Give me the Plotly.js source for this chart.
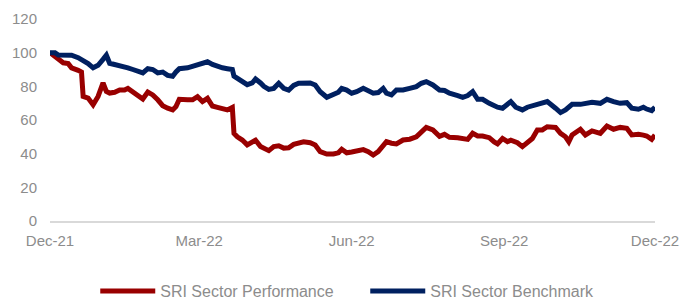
<!DOCTYPE html>
<html>
<head>
<meta charset="utf-8">
<script src="https://cdn.plot.ly/plotly-3.0.1.min.js"></script>
<style>html,body{margin:0;padding:0;background:#fff;}#chart{width:684px;height:299px;}</style>
</head>
<body>
<div id="chart"></div>
<script>
const dates = ["2021-12-01","2021-12-04","2021-12-06","2021-12-09","2021-12-12","2021-12-14","2021-12-18","2021-12-20","2021-12-21","2021-12-24","2021-12-27","2021-12-30",
"2022-01-02","2022-01-04","2022-01-06","2022-01-09","2022-01-12","2022-01-15","2022-01-17","2022-01-20","2022-01-23","2022-01-26","2022-01-29",
"2022-02-01","2022-02-04","2022-02-07","2022-02-10","2022-02-13","2022-02-15","2022-02-17","2022-02-22","2022-02-25","2022-02-28",
"2022-03-03","2022-03-06","2022-03-09","2022-03-12","2022-03-15","2022-03-18","2022-03-21","2022-03-22","2022-03-24","2022-03-27","2022-03-30",
"2022-04-02","2022-04-04","2022-04-07","2022-04-09","2022-04-12","2022-04-15","2022-04-18","2022-04-21","2022-04-24","2022-04-27","2022-04-30",
"2022-05-03","2022-05-07","2022-05-10","2022-05-13","2022-05-17","2022-05-21","2022-05-24","2022-05-26","2022-05-29",
"2022-06-01","2022-06-04","2022-06-08","2022-06-11","2022-06-14","2022-06-17","2022-06-20","2022-06-22","2022-06-25","2022-06-28",
"2022-07-02","2022-07-06","2022-07-10","2022-07-13","2022-07-16","2022-07-20","2022-07-24","2022-07-27","2022-07-30",
"2022-08-04","2022-08-07","2022-08-10","2022-08-13","2022-08-16","2022-08-19","2022-08-23","2022-08-26","2022-08-28","2022-08-31",
"2022-09-03","2022-09-05","2022-09-08","2022-09-09","2022-09-12","2022-09-15","2022-09-18","2022-09-21","2022-09-24","2022-09-27",
"2022-10-02","2022-10-05","2022-10-08","2022-10-10","2022-10-12","2022-10-17","2022-10-20","2022-10-24","2022-10-29",
"2022-11-02","2022-11-06","2022-11-10","2022-11-14","2022-11-17","2022-11-21","2022-11-24","2022-11-26","2022-11-29","2022-12-01"];

const sectorPerformance = [100,98,96,94,93.5,91,89.5,88.5,74,73,69,74,
82,77,76,76.5,77.8,77.8,78.8,76.8,74.9,72.5,76.6,
74.9,72,68.5,67,66,68,72.3,72,72,73.9,
71,72.9,68.3,67.5,67,66,67.5,52,50,48.1,45.2,
46.5,48,44.2,43,41.8,44.2,44.7,43.3,43.5,45.5,46.5,
47,46.5,45.2,41.2,39.8,39.8,40.5,42.6,40.5,
41,41.5,42.4,41.2,39.2,41.2,45,47.1,46.2,45.8,
48.1,48.6,50,53,55.6,54.1,50.3,51.5,49.7,
49.5,49,48.5,52.1,50.5,50.5,49.5,47,45.8,49,
47.1,48,47,46.5,44.2,46.5,49,54.1,54.1,56,
55.6,52.1,50,47.1,51.1,54.5,51.1,53.5,52.1,
56.4,54.5,55.6,55.1,51.1,51.5,51,50.5,48.5,51.1];

const sectorBenchmark = [100,100,98.6,98.5,99,98.5,97,96,95,93.5,91,92.5,
96,98.5,93.7,93,92,92,91,90,89,88,90.5,
90,88,88.5,86.5,86,88.5,90.5,91,92,93,
93.5,94.6,93,91.7,91,90.5,90,86,84.8,82.5,81,
82,84.4,82,80,78.2,78.8,81.8,78.8,77.8,80.5,81.8,
81.8,82,80.8,76.8,73.5,74.9,76.5,78.8,77.8,
75.9,76.8,78.8,77.4,75.9,76.3,78.8,75.9,74.9,77.8,
77.8,78.8,79.8,81.8,82.8,80.8,77.8,77.5,75.9,
74.5,73.5,74.5,76.8,72.3,72.3,69.9,68.5,67.6,67,
69,70.9,67.6,67,66,67.6,68.5,69,70,71,
67,64.4,66,67.5,69.3,69.3,69.5,70.5,69.9,
72.3,70.9,69.9,70.3,67,66.4,67.6,66.5,65.6,67.6];

const seriesNames = ["SRI Sector Performance","SRI Sector Benchmark"];
const tickDates = ["2021-12-01","2022-03-01","2022-06-01","2022-09-01","2022-12-01"];
const tickLabels = ["Dec-21","Mar-22","Jun-22","Sep-22","Dec-22"];
const yTicks = [0,20,40,60,80,100,120];

const ff = "Liberation Sans, Arial, sans-serif";
const tickFont = {family: ff, size: 15, color: "#8c8c8c"};
const legendFont = {family: ff, size: 16, color: "#8c8c8c"};

const traces = [
  {x: dates, y: sectorPerformance, name: seriesNames[0], type: "scatter", mode: "lines",
   line: {color: "#990000", width: 5, shape: "linear"}},
  {x: dates, y: sectorBenchmark, name: seriesNames[1], type: "scatter", mode: "lines",
   line: {color: "#002060", width: 5, shape: "linear"}}
];

const layout = {
  width: 684, height: 299,
  margin: {l: 50, r: 29, t: 19, b: 78, autoexpand: false},
  paper_bgcolor: "#fff", plot_bgcolor: "#fff",
  font: tickFont,
  showlegend: true,
  legend: {orientation: "h", x: 0.534, xanchor: "center", xref: "container",
           y: -0.3465, yanchor: "middle", yref: "paper",
           font: legendFont, itemwidth: 55, tracegroupgap: 0,
           entrywidth: 200, entrywidthmode: "pixels"},
  xaxis: {type: "date", range: ["2021-12-01","2022-12-01"], tickvals: tickDates, ticktext: tickLabels,
          showgrid: false, zeroline: false, showline: true, linecolor: "#d9d9d9", linewidth: 1.5,
          ticks: "", tickfont: tickFont, ticklabelstandoff: 5, fixedrange: true, automargin: false},
  yaxis: {range: [0, 120], tickvals: yTicks, showgrid: false, zeroline: false, showline: false,
          ticks: "", tickfont: tickFont, ticklabelstandoff: 12, automargin: false}
};

Plotly.newPlot("chart", traces, layout, {staticPlot: true, displayModeBar: false});
</script>
</body>
</html>
